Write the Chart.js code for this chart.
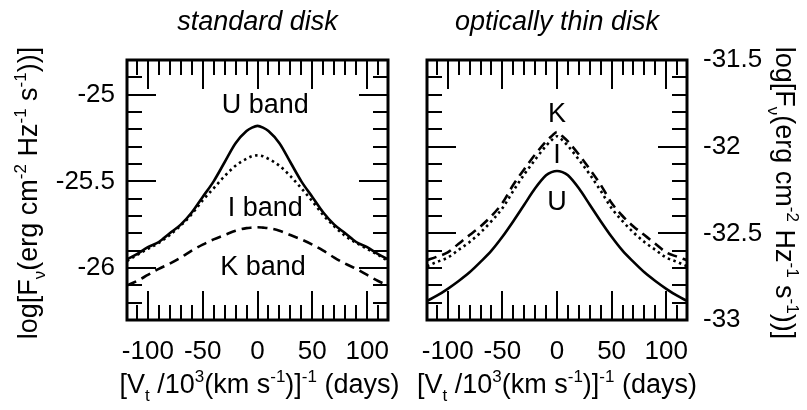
<!DOCTYPE html>
<html><head><meta charset="utf-8">
<script src="https://cdn.jsdelivr.net/npm/chart.js@4.4.0/dist/chart.umd.min.js"></script>
<style>
html,body{margin:0;padding:0;background:#fff;}
#wrap{position:relative;width:807px;height:410px;background:#fff;}
canvas{position:absolute;left:0;top:0;}
</style></head><body>
<div id="wrap"><canvas id="c1" width="807" height="410"></canvas><canvas id="c2" width="807" height="410"></canvas></div>
<script>
// ---- data ----
const xValues = [-119,-110,-100,-90,-80,-70,-60,-50,-40,-30,-20,-10,-5,0,5,10,20,30,40,50,60,70,80,90,100,110,119];
// standard disk
const stdU = [-25.95,-25.92,-25.88,-25.85,-25.80,-25.75,-25.68,-25.59,-25.50,-25.39,-25.28,-25.21,-25.19,-25.18,-25.19,-25.21,-25.28,-25.39,-25.50,-25.59,-25.68,-25.75,-25.80,-25.85,-25.88,-25.92,-25.95];
const stdI = [-25.96,-25.925,-25.89,-25.855,-25.81,-25.755,-25.69,-25.61,-25.54,-25.47,-25.41,-25.37,-25.355,-25.35,-25.355,-25.37,-25.41,-25.47,-25.54,-25.615,-25.695,-25.76,-25.815,-25.855,-25.89,-25.925,-25.96];
const stdK = [-26.10,-26.075,-26.04,-26.005,-25.975,-25.94,-25.90,-25.865,-25.835,-25.81,-25.785,-25.77,-25.767,-25.765,-25.767,-25.77,-25.785,-25.81,-25.835,-25.865,-25.90,-25.94,-25.975,-26.005,-26.04,-26.075,-26.10];
// optically thin disk
const thinU = [-32.89,-32.86,-32.82,-32.775,-32.725,-32.665,-32.60,-32.52,-32.43,-32.335,-32.24,-32.165,-32.147,-32.14,-32.147,-32.165,-32.24,-32.335,-32.43,-32.52,-32.60,-32.665,-32.725,-32.775,-32.82,-32.86,-32.89];
const thinK = [-32.655,-32.635,-32.61,-32.56,-32.51,-32.46,-32.40,-32.325,-32.22,-32.13,-32.045,-31.97,-31.94,-31.915,-31.94,-31.97,-32.045,-32.13,-32.22,-32.325,-32.40,-32.46,-32.51,-32.56,-32.61,-32.635,-32.655];
const thinI = [-32.69,-32.665,-32.64,-32.595,-32.55,-32.495,-32.43,-32.355,-32.255,-32.16,-32.075,-31.995,-31.963,-31.94,-31.963,-31.995,-32.075,-32.16,-32.255,-32.355,-32.43,-32.495,-32.55,-32.595,-32.64,-32.665,-32.69];
// tick labels
const xTickLabels = [-100,-50,0,50,100];
const stdYTicks = [-26,-25.5,-25];
const thinYTicks = [-33,-32.5,-32,-31.5];
const panelTitles = ['standard disk','optically thin disk'];
const stdBandLabels = [{t:'U band',x:7,y:-25.06},{t:'I band',x:7,y:-25.655},{t:'K band',x:5,y:-26.0}];
const thinBandLabels = [{t:'K',x:0,y:-31.817},{t:'I',x:0,y:-32.05},{t:'U',x:0,y:-32.32}];

const FONT = '"Liberation Sans", Arial, Helvetica, sans-serif';
const yTitleSegs = [['log[F',0],['\u03bd',2],['(erg cm',0],['-2',1],[' Hz',0],['-1',1],[' s',0],['-1',1],['))]',0]];
const xTitleSegs = [['[V',0],['t',2],[' /10',0],['3',1],['(km s',0],['-1',1],[')]',0],['-1',1],[' (days)',0]];

function segFont(size, mode){ return (mode ? Math.round(size*0.62) : size) + 'px ' + FONT; }
function richWidth(ctx, segs, size){
  let w = 0;
  for (const [t,m] of segs){ ctx.font = segFont(size,m); w += ctx.measureText(t).width; }
  return w;
}
function drawRich(ctx, segs, cx, by, size){
  const w = richWidth(ctx, segs, size);
  let x = cx - w/2;
  ctx.textAlign = 'left'; ctx.textBaseline = 'alphabetic';
  for (const [t,m] of segs){
    ctx.font = segFont(size,m);
    const dy = m===1 ? -size*0.42 : (m===2 ? size*0.30 : 0);
    ctx.fillText(t, x, by + dy);
    x += ctx.measureText(t).width;
  }
}

const framePlugin = {
  id: 'frame',
  afterDraw(chart, args, o){
    const ctx = chart.ctx, a = chart.chartArea, xs = chart.scales.x, ys = chart.scales.y;
    ctx.save();
    ctx.strokeStyle = '#000'; ctx.fillStyle = '#000'; ctx.lineCap = 'butt';
    ctx.lineWidth = 2;
    ctx.beginPath();
    for (let k = Math.ceil(xs.min/10); k <= Math.floor(xs.max/10); k++){
      const v = k*10; if (v <= xs.min || v >= xs.max) continue;
      const px = Math.round(xs.getPixelForValue(v));
      const L = (k % 5 === 0) ? 29 : 15;
      ctx.moveTo(px, a.top); ctx.lineTo(px, a.top + L);
      ctx.moveTo(px, a.bottom); ctx.lineTo(px, a.bottom - L);
    }
    for (let k = Math.ceil(ys.min*10 - 1e-6); k <= Math.floor(ys.max*10 + 1e-6); k++){
      const v = k/10; if (v <= ys.min + 1e-6 || v >= ys.max - 1e-6) continue;
      const py = Math.round(ys.getPixelForValue(v));
      const L = (k % 5 === 0) ? 29 : 15;
      ctx.moveTo(a.left, py); ctx.lineTo(a.left + L, py);
      ctx.moveTo(a.right, py); ctx.lineTo(a.right - L, py);
    }
    ctx.stroke();
    ctx.lineWidth = 3;
    ctx.strokeRect(a.left, a.top, a.right - a.left, a.bottom - a.top);
    // band labels
    ctx.font = '27px ' + FONT; ctx.textAlign = 'center'; ctx.textBaseline = 'middle';
    for (const lb of o.labels) ctx.fillText(lb.t, xs.getPixelForValue(lb.x), ys.getPixelForValue(lb.y));
    // panel title
    ctx.font = 'italic 27px ' + FONT;
    ctx.fillText(o.title, (a.left + a.right)/2, 22);
    // x title
    drawRich(ctx, xTitleSegs, (a.left + a.right)/2 + o.xTitleDx, 393, 27);
    // y title
    ctx.save();
    ctx.translate(o.yTitleX, (a.top + a.bottom)/2 + 3);
    ctx.rotate(o.yTitleRot);
    drawRich(ctx, yTitleSegs, 0, 0, 27);
    ctx.restore();
    ctx.restore();
  }
};

function makeChart(id, series, yMin, yMax, yTicks, yPos, pad, plugOpts){
  const dashes = [[], [2.5,3.5], [10,6]];
  return new Chart(document.getElementById(id), {
    type: 'line',
    data: {
      datasets: series.map((s, i) => ({
        data: xValues.map((x, j) => ({x: x, y: s[j]})),
        borderColor: '#000', borderWidth: 2.6, borderDash: dashes[i],
        pointRadius: 0, fill: false, cubicInterpolationMode: 'monotone'
      }))
    },
    options: {
      responsive: false, animation: false, events: [],
      layout: { padding: pad },
      plugins: { legend: {display:false}, tooltip: {enabled:false}, frame: plugOpts },
      scales: {
        x: {
          type: 'linear', position: 'bottom', min: -119, max: 119,
          afterBuildTicks: s => { s.ticks = xTickLabels.map(v => ({value: v})); },
          afterFit: s => { s.height = 60; },
          grid: {display:false, drawTicks:false}, border: {display:false},
          ticks: { color:'#000', font:{family: FONT, size: 26}, padding: 16, maxRotation: 0, autoSkip: false,
                   callback: v => String(v) }
        },
        y: {
          type: 'linear', position: yPos, min: yMin, max: yMax,
          afterBuildTicks: s => { s.ticks = yTicks.map(v => ({value: v})); },
          afterFit: s => { s.width = 110; },
          grid: {display:false, drawTicks:false}, border: {display:false},
          ticks: { color:'#000', font:{family: FONT, size: 26}, padding: yPos === 'left' ? 12 : 16, autoSkip: false,
                   callback: v => String(v) }
        }
      }
    },
    plugins: [framePlugin]
  });
}

makeChart('c1', [stdU, stdI, stdK], -26.3, -24.8, stdYTicks, 'left',
  {left: 17, right: 419, top: 60, bottom: 30},
  {labels: stdBandLabels, title: panelTitles[0], xTitleDx: 2, yTitleX: 37, yTitleRot: -Math.PI/2});
makeChart('c2', [thinU, thinI, thinK], -33, -31.5, thinYTicks, 'right',
  {left: 427, right: 10, top: 60, bottom: 30},
  {labels: thinBandLabels, title: panelTitles[1], xTitleDx: 0, yTitleX: 776, yTitleRot: Math.PI/2});
</script>
</body></html>
